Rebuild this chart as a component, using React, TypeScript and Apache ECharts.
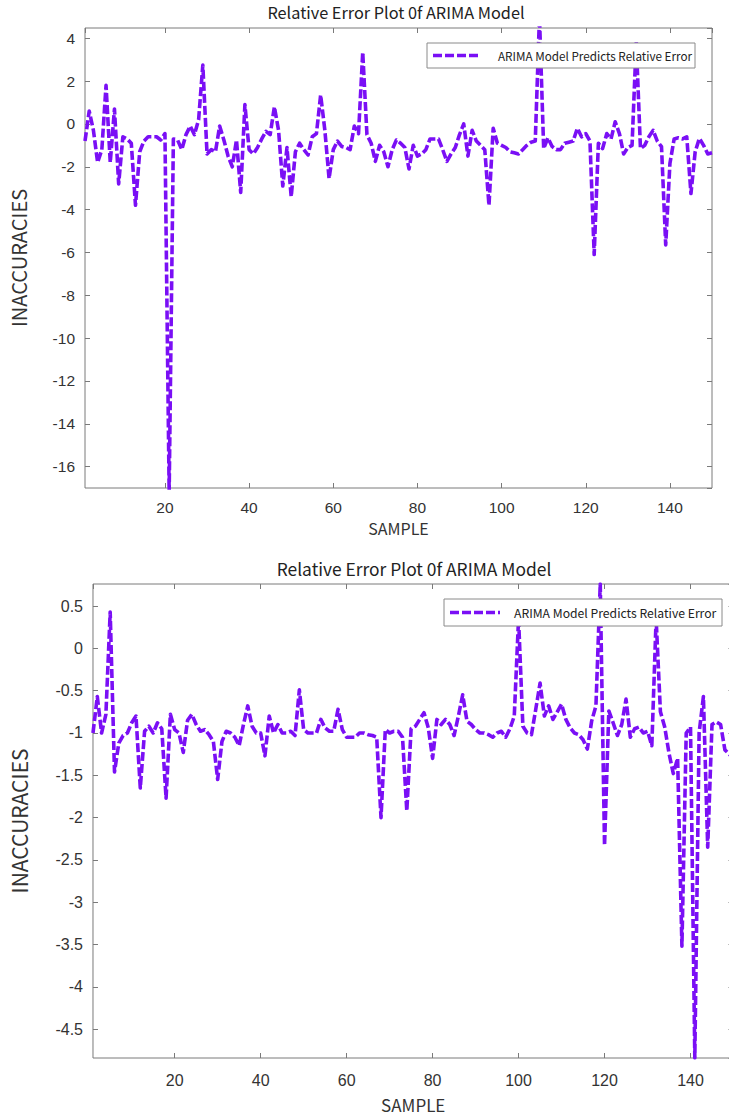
import React, { useEffect, useRef } from "react";
import * as echarts from "echarts";

const TITLE = "Relative Error Plot 0f ARIMA Model";
const SERIES_NAME = "ARIMA Model Predicts Relative Error";
const X_NAME = "SAMPLE";
const Y_NAME = "INACCURACIES";

// Top chart: relative error for samples 1..150
const topErrors: number[] = [
  -0.8, 0.6, -0.3, -1.8, -1.2, 1.8, -1.8, 0.7, -2.8, -0.6,
  -0.7, -0.9, -3.8, -1.3, -0.8, -0.6, -0.6, -0.6, -0.75, -0.45,
  -17.2, -0.7, -0.75, -1.2, -0.5, -0.1, -0.5, 0.2, 2.75, -1.4,
  -1.2, -1.3, -0.1, -0.75, -1.5, -2.0, -0.75, -3.2, 0.9, -1.2,
  -1.4, -1.1, -0.7, -0.35, -0.5, 0.8, -0.3, -2.9, -1.1, -3.4,
  -1.3, -0.9, -1.2, -1.45, -0.6, -0.45, 1.35, -0.3, -2.55, -1.2,
  -0.8, -1.05, -1.1, -1.2, -0.1, -0.45, 3.35, -0.5, -0.9, -1.75,
  -1.0, -1.3, -2.0, -1.2, -0.75, -0.9, -1.1, -2.1, -1.0, -1.5,
  -1.4, -1.2, -0.7, -0.7, -0.7, -1.2, -1.75, -1.4, -1.1, -0.5,
  0.0, -1.5, -0.3, -0.8, -1.0, -1.2, -3.8, -0.2, -0.9, -1.0,
  -1.1, -1.3, -1.35, -1.4, -1.2, -1.0, -0.85, -0.8, 5.0, -1.15,
  -0.65, -1.05, -1.2, -1.2, -0.9, -0.85, -0.8, -0.2, -0.6, -0.45,
  -0.8, -6.1, -0.9, -1.15, -0.45, -0.7, 0.1, -0.45, -1.4, -1.1,
  -1.0, 3.85, -1.15, -1.0, -0.6, -0.3, -0.8, -1.06, -5.65, -1.85,
  -0.7, -0.65, -0.7, -0.6, -3.25, -1.3, -0.67, -1.0, -1.4, -1.35,
];

// Bottom chart: relative error for samples 1..150
const bottomErrors: number[] = [
  -1.0, -0.57, -1.0, -0.78, 0.43, -1.46, -1.12, -1.03, -1.0, -0.88,
  -0.8, -1.65, -0.98, -0.92, -1.0, -0.88, -0.95, -1.77, -0.78, -0.96,
  -1.0, -1.23, -0.85, -0.78, -0.9, -0.98, -0.96, -1.02, -1.1, -1.55,
  -1.1, -0.98, -1.0, -1.05, -1.15, -0.9, -0.68, -0.92, -1.0, -1.0,
  -1.27, -0.8, -1.0, -0.9, -1.0, -1.0, -0.98, -1.03, -0.49, -0.96,
  -1.0, -1.0, -1.0, -0.84, -0.94, -0.98, -0.98, -0.72, -0.96, -1.05,
  -1.05, -1.05, -1.0, -1.0, -1.02, -1.03, -1.05, -2.0, -0.96, -1.0,
  -0.98, -0.98, -1.05, -1.92, -0.95, -0.92, -0.84, -0.76, -0.94, -1.3,
  -0.84, -0.9, -0.84, -0.9, -1.03, -0.8, -0.55, -0.86, -0.9, -0.96,
  -1.0, -1.0, -1.02, -1.05, -1.0, -0.98, -1.05, -0.95, -0.8, 0.35,
  -0.92, -1.0, -1.02, -0.72, -0.41, -0.8, -0.68, -0.84, -0.75, -0.66,
  -0.84, -0.94, -1.0, -1.02, -1.08, -1.19, -0.86, -0.68, 0.76, -2.33,
  -0.74, -0.88, -1.03, -0.9, -0.6, -1.05, -0.95, -0.93, -1.0, -0.98,
  -1.15, 0.35, -0.75, -0.93, -1.24, -1.48, -1.3, -3.52, -1.0, -0.93,
  -4.84, -1.0, -0.57, -2.35, -0.9, -0.87, -0.9, -1.2, -1.25, -1.3,
];

const LINE_COLOR = "#7a0ff5";
const AXIS_COLOR = "#7a7a7a";
const TEXT_COLOR = "#333";
const TICK_FONT = "'Liberation Sans', Arial, sans-serif";
const TEXT_FONT = "'Noto Sans CJK SC', 'Noto Sans', sans-serif";
const DASH = [9, 3];

function legendGroup(x: number, y: number, w: number, h: number, lineLen: number, textX: number, fontSize: number) {
  const cy = y + h / 2;
  return {
    type: "group",
    z: 100,
    children: [
      {
        type: "rect",
        z: 100,
        shape: { x, y, width: w, height: h },
        style: { fill: "#fff", stroke: "#8a8a8a", lineWidth: 1 },
      },
      {
        type: "line",
        z: 101,
        shape: { x1: x + 6, y1: cy, x2: x + 6 + lineLen, y2: cy },
        style: { stroke: LINE_COLOR, lineWidth: 3.5, lineDash: DASH },
      },
      {
        type: "text",
        z: 101,
        x: textX,
        y: cy,
        style: {
          text: SERIES_NAME,
          fill: "#222",
          font: `${fontSize}px ${TEXT_FONT}`,
          textAlign: "left",
          textVerticalAlign: "middle",
        },
      },
    ],
  };
}

export default function App() {
  const ref = useRef<HTMLDivElement>(null);

  useEffect(() => {
    if (!ref.current) return;
    const chart = echarts.init(ref.current, undefined, { renderer: "svg" });

    const topData = topErrors.map((v, i) => [i + 1, v]);
    const bottomData = bottomErrors.map((v, i) => [i + 1, v]);

    const tick = { show: true, inside: true, length: 5, lineStyle: { color: AXIS_COLOR } };
    const noLine = { show: false, onZero: false };
    const label = (size: number, margin: number) => ({
      color: TEXT_COLOR,
      fontSize: size,
      fontFamily: TICK_FONT,
      margin,
      showMinLabel: false,
      showMaxLabel: false,
    });
    const nameStyle = (size: number) => ({ color: TEXT_COLOR, fontSize: size, fontFamily: TEXT_FONT });

    const option: any = {
      animation: false,
      backgroundColor: "#fff",
      graphic: [
        {
          type: "text",
          x: 396,
          y: 12,
          style: {
            text: TITLE,
            fill: "#222",
            font: `16.3px ${TEXT_FONT}`,
            textAlign: "center",
            textVerticalAlign: "middle",
          },
        },
        {
          type: "text",
          x: 414,
          y: 568,
          style: {
            text: TITLE,
            fill: "#222",
            font: `17.4px ${TEXT_FONT}`,
            textAlign: "center",
            textVerticalAlign: "middle",
          },
        },
        legendGroup(427, 43, 268, 25, 46, 498, 11.7),
        legendGroup(444, 599, 278, 27, 50, 514, 12.2),
      ],
      grid: [
        { left: 80, right: 33, top: 28, height: 460, show: true, borderColor: AXIS_COLOR, borderWidth: 1, backgroundColor: "transparent" },
        { left: 87.6, right: 11.5, top: 584, height: 474, show: true, borderColor: AXIS_COLOR, borderWidth: 1, backgroundColor: "transparent" },
      ],
      xAxis: [
        {
          gridIndex: 0, type: "value", min: 1, max: 150, splitNumber: 7, position: "bottom",
          axisLine: noLine, axisTick: tick, axisLabel: label(15.5, 11), splitLine: { show: false },
          name: X_NAME, nameLocation: "middle", nameGap: 32, nameTextStyle: nameStyle(16),
        },
        {
          gridIndex: 0, type: "value", min: 1, max: 150, splitNumber: 7, position: "top",
          axisLine: noLine, axisTick: tick, axisLabel: { show: false }, splitLine: { show: false },
        },
        {
          gridIndex: 1, type: "value", min: 1, max: 150, splitNumber: 7, position: "bottom",
          axisLine: noLine, axisTick: tick, axisLabel: label(16, 14), splitLine: { show: false },
          name: X_NAME, nameLocation: "middle", nameGap: 38, nameTextStyle: nameStyle(17),
        },
        {
          gridIndex: 1, type: "value", min: 1, max: 150, splitNumber: 7, position: "top",
          axisLine: noLine, axisTick: tick, axisLabel: { show: false }, splitLine: { show: false },
        },
      ],
      yAxis: [
        {
          gridIndex: 0, type: "value", min: -17, max: 4.48, splitNumber: 10, position: "left",
          axisLine: noLine, axisTick: tick, axisLabel: label(15.5, 10), splitLine: { show: false },
          name: Y_NAME, nameLocation: "middle", nameGap: 57, nameRotate: 90, nameTextStyle: nameStyle(20),
        },
        {
          gridIndex: 0, type: "value", min: -17, max: 4.48, splitNumber: 10, position: "right",
          axisLine: noLine, axisTick: tick, axisLabel: { show: false }, splitLine: { show: false },
        },
        {
          gridIndex: 1, type: "value", min: -4.84, max: 0.76, splitNumber: 11, position: "left",
          axisLine: noLine, axisTick: tick, axisLabel: label(16, 10), splitLine: { show: false },
          name: Y_NAME, nameLocation: "middle", nameGap: 64, nameRotate: 90, nameTextStyle: nameStyle(21),
        },
        {
          gridIndex: 1, type: "value", min: -4.84, max: 0.76, splitNumber: 11, position: "right",
          axisLine: noLine, axisTick: tick, axisLabel: { show: false }, splitLine: { show: false },
        },
      ],
      series: [
        {
          name: SERIES_NAME, type: "line", xAxisIndex: 0, yAxisIndex: 0, data: topData,
          symbol: "none", clip: true, color: LINE_COLOR,
          lineStyle: { color: LINE_COLOR, width: 3.6, type: DASH, join: "round" },
        },
        {
          name: SERIES_NAME, type: "line", xAxisIndex: 2, yAxisIndex: 2, data: bottomData,
          symbol: "none", clip: true, color: LINE_COLOR,
          lineStyle: { color: LINE_COLOR, width: 3.6, type: DASH, join: "round" },
        },
      ],
    };

    chart.setOption(option);
    return () => chart.dispose();
  }, []);

  return (
    <div style={{ position: "absolute", left: 0, top: 0, width: 729, height: 1117, overflow: "hidden", background: "#fff" }}>
      <div ref={ref} style={{ width: 745, height: 1117 }} />
    </div>
  );
}
